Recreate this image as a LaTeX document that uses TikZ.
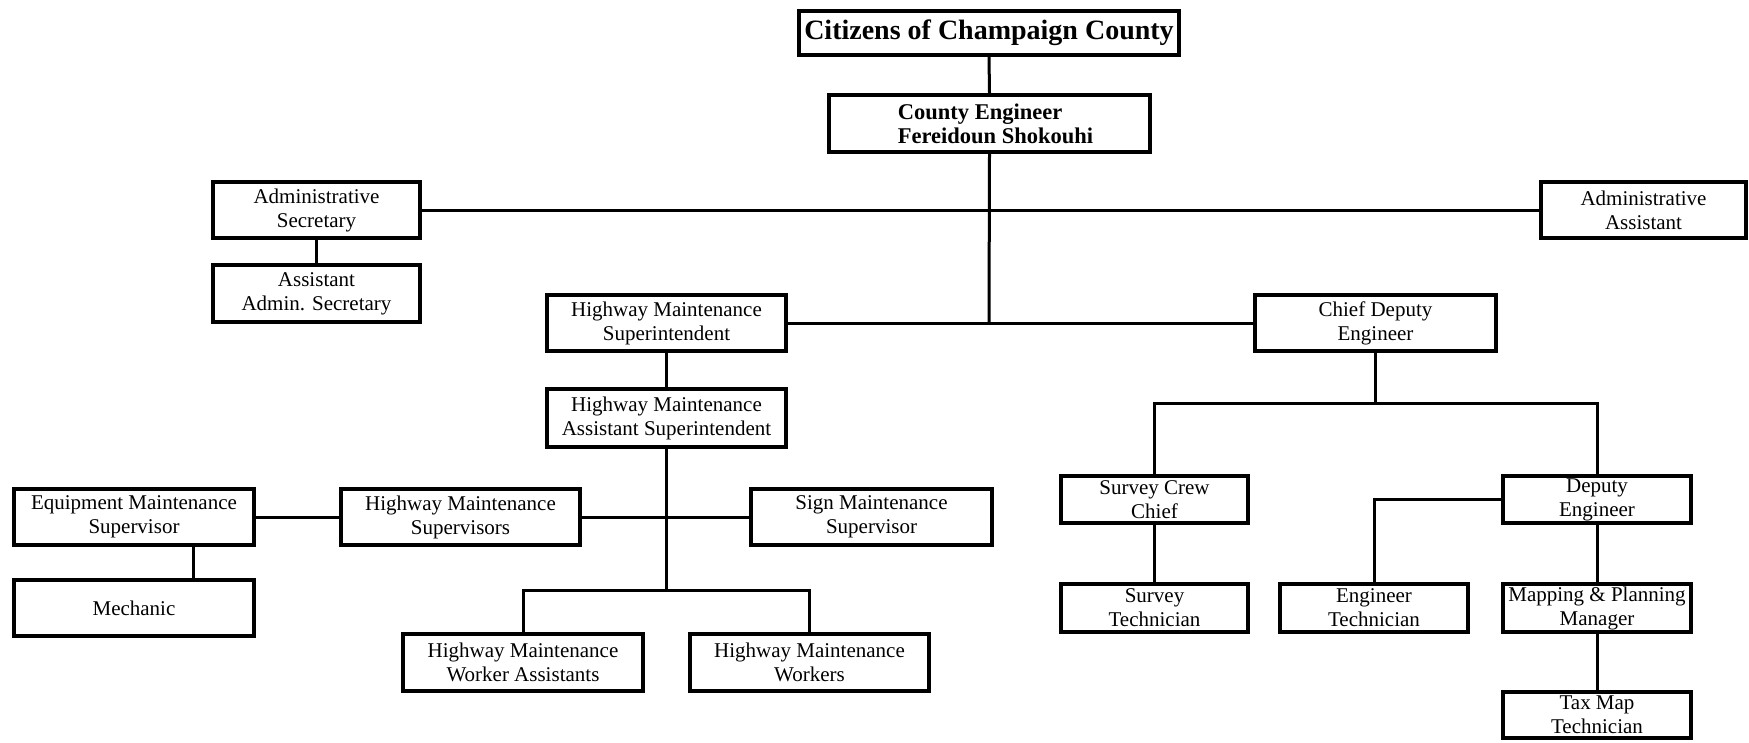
\documentclass[tikz,border=0pt]{standalone}
\usepackage{fontspec}
\setmainfont{Liberation Serif}
\begin{document}
\begin{tikzpicture}[x=1pt,y=-1pt,
  box/.style={draw, line width=3.6pt, inner sep=0pt, align=center,
    font=\fontsize{21}{24}\selectfont},
  con/.style={line width=3pt}]
\useasboundingbox (0,0) rectangle (1749,742);
% boxes
\node[box, minimum width=380pt, minimum height=44pt,
  font=\bfseries\fontsize{28}{32}\selectfont] (cit) at (989,33) {Citizens of Champaign County};
\node[box, minimum width=321pt, minimum height=57pt, align=left,
  font=\bfseries\fontsize{22.5}{24}\selectfont] (ce) at (989.5,123.5) {\hspace*{12pt}County Engineer\\\hspace*{12pt}Fereidoun Shokouhi};
\node[box, minimum width=207pt, minimum height=56pt] (as) at (316.5,210) {Administrative\\Secretary};
\node[box, minimum width=207pt, minimum height=57pt] (aas) at (316.5,293.5) {Assistant\\Admin. Secretary};
\node[box, minimum width=205pt, minimum height=56pt] (aa) at (1643.5,210) {Administrative\\Assistant};
\node[box, minimum width=239pt, minimum height=56pt] (hms) at (666.5,323) {Highway Maintenance\\Superintendent};
\node[box, minimum width=241pt, minimum height=56pt] (cde) at (1375.5,323) {Chief Deputy\\Engineer};
\node[box, minimum width=239pt, minimum height=58pt] (hmas) at (666.5,418) {Highway Maintenance\\Assistant Superintendent};
\node[box, minimum width=240pt, minimum height=56pt] (ems) at (134,517) {Equipment Maintenance\\Supervisor};
\node[box, minimum width=239pt, minimum height=56pt] (hmsup) at (460.5,517) {Highway Maintenance\\Supervisors};
\node[box, minimum width=241pt, minimum height=56pt] (sms) at (871.5,517) {Sign Maintenance\\Supervisor};
\node[box, minimum width=240pt, minimum height=56pt] (mech) at (134,608) {Mechanic};
\node[box, minimum width=240pt, minimum height=57pt] (hmwa) at (523,662.5) {Highway Maintenance\\Worker Assistants};
\node[box, minimum width=239pt, minimum height=57pt] (hmw) at (809.5,662.5) {Highway Maintenance\\Workers};
\node[box, minimum width=187pt, minimum height=47pt] (scc) at (1154.5,499.5) {Survey Crew\\Chief};
\node[box, minimum width=187pt, minimum height=48pt] (st) at (1154.5,608) {Survey\\Technician};
\node[box, minimum width=188pt, minimum height=47pt] (de) at (1597,499.5) {Deputy\\Engineer};
\node[box, minimum width=188pt, minimum height=48pt] (et) at (1374,608) {Engineer\\Technician};
\node[box, minimum width=188pt, minimum height=48pt] (mpm) at (1597,608) {Mapping \& Planning\\Manager};
\node[box, minimum width=188pt, minimum height=46pt] (tmt) at (1597,715) {Tax Map\\Technician};
% junctions
\coordinate (j1) at (989,323);
\coordinate (j2) at (666.5,590);
\coordinate (j3) at (1375.5,403);
\coordinate (mx) at (193,0);
% connectors
\draw[con] (cit.south) -- (ce.north);
\draw[con] (ce.south) -- (j1);
\draw[con] (as.east) -- (aa.west);
\draw[con] (as.south) -- (aas.north);
\draw[con] (hms.east) -- (cde.west);
\draw[con] (hms.south) -- (hmas.north);
\draw[con] (hmas.south) -- (j2);
\draw[con] (ems.east) -- (hmsup.west);
\draw[con] (hmsup.east) -- (sms.west);
\draw[con] (ems.south -| mx) -- (mech.north -| mx);
\draw[con] (hmwa.north) |- (j2) -| (hmw.north);
\draw[con] (cde.south) -- (j3);
\draw[con] (scc.north) |- (j3) -| (de.north);
\draw[con] (scc.south) -- (st.north);
\draw[con] (de.west) -| (et.north);
\draw[con] (de.south) -- (mpm.north);
\draw[con] (mpm.south) -- (tmt.north);
\end{tikzpicture}
\end{document}
